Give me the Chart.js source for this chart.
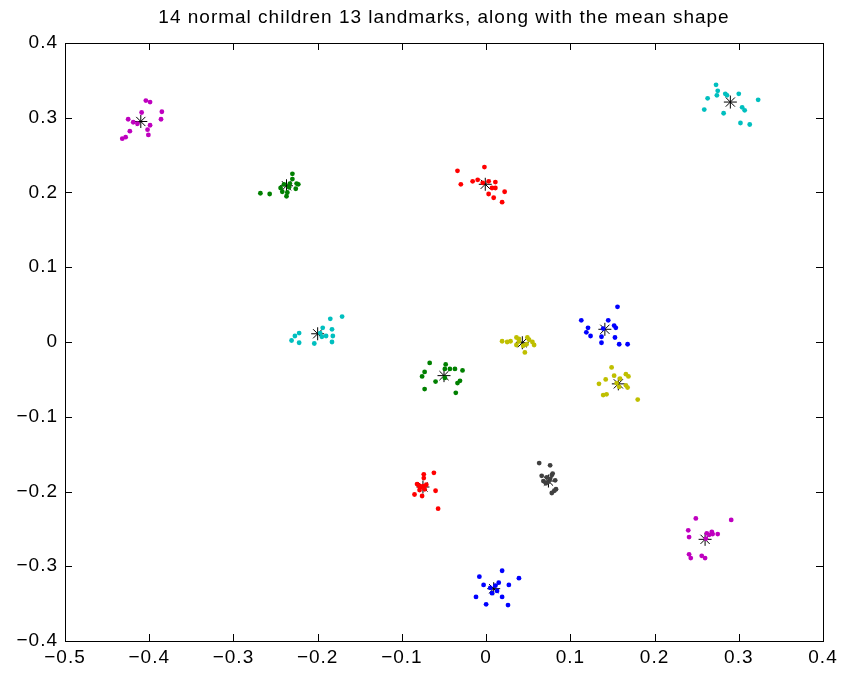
<!DOCTYPE html>
<html>
<head>
<meta charset="utf-8">
<script src="https://cdn.jsdelivr.net/npm/chart.js@4.4.1/dist/chart.umd.min.js"></script>
<style>
  html, body { margin: 0; padding: 0; background: #fff; }
</style>
</head>
<body>
<canvas id="c" width="845" height="677"></canvas>
<script>
const TITLE = "14 normal children 13 landmarks, along with the mean shape";
const xTicks = [-0.5, -0.4, -0.3, -0.2, -0.1, 0, 0.1, 0.2, 0.3, 0.4];
const yTicks = [-0.4, -0.3, -0.2, -0.1, 0, 0.1, 0.2, 0.3, 0.4];

// landmark positions of the 14 children, one array per landmark: [x, y]
const L1 = [[-0.404,0.323],[-0.399,0.321],[-0.409,0.307],[-0.385,0.308],[-0.425,0.298],[-0.386,0.298],[-0.419,0.294],[-0.414,0.292],[-0.399,0.290],[-0.402,0.284],[-0.423,0.282],[-0.401,0.277],[-0.428,0.274],[-0.432,0.272]];
const L2 = [[-0.268,0.199],[-0.257,0.198],[-0.230,0.225],[-0.230,0.218],[-0.225,0.212],[-0.223,0.211],[-0.233,0.212],[-0.226,0.205],[-0.242,0.201],[-0.236,0.200],[-0.237,0.195],[-0.240,0.211],[-0.234,0.207],[-0.244,0.206]];
const L3 = [[-0.034,0.229],[-0.002,0.234],[-0.030,0.211],[-0.016,0.215],[-0.010,0.217],[0.003,0.215],[0.011,0.214],[0.007,0.206],[0.011,0.206],[0.022,0.201],[0.003,0.198],[0.009,0.193],[0.019,0.187],[-0.004,0.213]];
const L4 = [[0.273,0.344],[0.275,0.336],[0.263,0.326],[0.274,0.330],[0.284,0.332],[0.286,0.330],[0.300,0.332],[0.323,0.324],[0.259,0.311],[0.282,0.306],[0.304,0.314],[0.307,0.310],[0.302,0.293],[0.313,0.291]];
const L5 = [[-0.185,0.031],[-0.171,0.034],[-0.194,0.019],[-0.183,0.017],[-0.222,0.012],[-0.227,0.008],[-0.231,0.002],[-0.222,-0.001],[-0.204,-0.002],[-0.190,0.008],[-0.182,0.008],[-0.183,0.000],[-0.197,0.012],[-0.195,0.007]];
const L6 = [[-0.067,-0.028],[-0.048,-0.030],[-0.073,-0.040],[-0.076,-0.046],[-0.049,-0.036],[-0.043,-0.036],[-0.037,-0.036],[-0.028,-0.038],[-0.060,-0.053],[-0.031,-0.052],[-0.034,-0.055],[-0.073,-0.063],[-0.036,-0.068],[-0.049,-0.048]];
const L7 = [[0.019,0.001],[0.025,0.000],[0.029,0.001],[0.036,0.006],[0.036,-0.004],[0.049,0.006],[0.051,0.003],[0.055,0.000],[0.057,-0.004],[0.046,-0.014],[0.048,-0.003],[0.039,0.001],[0.039,0.004],[0.044,-0.005]];
const L8 = [[0.156,0.047],[0.113,0.029],[0.145,0.029],[0.121,0.019],[0.119,0.013],[0.124,0.008],[0.152,0.022],[0.154,0.019],[0.137,0.007],[0.153,0.006],[0.137,-0.001],[0.158,-0.003],[0.168,-0.003],[0.139,0.018]];
const L9 = [[0.149,-0.034],[0.166,-0.043],[0.169,-0.046],[0.152,-0.045],[0.142,-0.050],[0.159,-0.049],[0.134,-0.056],[0.166,-0.058],[0.168,-0.061],[0.158,-0.060],[0.143,-0.070],[0.139,-0.071],[0.180,-0.077],[0.155,-0.055]];
const L10 = [[-0.062,-0.175],[-0.074,-0.177],[-0.074,-0.182],[-0.082,-0.190],[-0.080,-0.192],[-0.078,-0.194],[-0.085,-0.204],[-0.076,-0.206],[-0.060,-0.199],[-0.057,-0.223],[-0.075,-0.193],[-0.073,-0.197],[-0.079,-0.198],[-0.071,-0.191]];
const L11 = [[0.063,-0.162],[0.076,-0.165],[0.079,-0.176],[0.078,-0.178],[0.066,-0.179],[0.068,-0.186],[0.071,-0.189],[0.083,-0.197],[0.081,-0.199],[0.078,-0.202],[0.076,-0.183],[0.072,-0.181],[0.074,-0.187],[0.082,-0.185]];
const L12 = [[0.249,-0.236],[0.240,-0.252],[0.241,-0.261],[0.262,-0.256],[0.265,-0.258],[0.268,-0.254],[0.269,-0.257],[0.275,-0.257],[0.241,-0.284],[0.243,-0.289],[0.256,-0.286],[0.260,-0.289],[0.261,-0.263],[0.291,-0.238]];
const L13 = [[-0.008,-0.314],[0.019,-0.306],[0.039,-0.316],[-0.003,-0.325],[0.015,-0.322],[0.027,-0.325],[0.005,-0.329],[0.013,-0.333],[0.007,-0.336],[-0.012,-0.341],[0.019,-0.341],[0.000,-0.351],[0.026,-0.352],[0.011,-0.326]];
const landmarks = [L1, L2, L3, L4, L5, L6, L7, L8, L9, L10, L11, L12, L13];
const landmarkColors = ["#bf00bf", "#008000", "#ff0000", "#00bfbf", "#00bfbf", "#008000", "#bfbf00",
                        "#0000ff", "#bfbf00", "#ff0000", "#404040", "#bf00bf", "#0000ff"];

// mean shape
const meanX = [-0.410, -0.237, -0.001, 0.290, -0.200, -0.050, 0.043, 0.141, 0.157, -0.075, 0.074, 0.260, 0.009];
const meanY = [0.295, 0.209, 0.211, 0.321, 0.011, -0.045, -0.001, 0.017, -0.056, -0.194, -0.186, -0.264, -0.330];

const FONT = "'Liberation Sans', Arial, Helvetica, sans-serif";
const SPACING = "1px"; // matlab's text renders a bit looser than the canvas

const datasets = landmarks.map((pts, i) => ({
  label: "landmark " + (i + 1),
  data: pts.map(p => ({ x: p[0], y: p[1] })),
  backgroundColor: landmarkColors[i],
  borderWidth: 0,
  pointRadius: 2.4,
}));
datasets.push({
  label: "mean",
  data: meanX.map((x, i) => ({ x, y: meanY[i] })),
  pointStyle: "star",
  pointRadius: 6.5,
  borderColor: "#000",
  backgroundColor: "#000",
  borderWidth: 1,
});

// box round the axes and inward tick marks on all four sides, like matlab
const frame = {
  id: "frame",
  beforeLayout(chart) { chart.ctx.letterSpacing = SPACING; },
  beforeDraw(chart) { chart.ctx.letterSpacing = SPACING; },
  afterDraw(chart) {
    const { ctx, chartArea: a, scales } = chart;
    const tl = 7;
    ctx.save();
    ctx.strokeStyle = "#000";
    ctx.lineWidth = 1;
    ctx.beginPath();
    for (const v of xTicks) {
      const px = Math.round(scales.x.getPixelForValue(v)) + 0.5;
      ctx.moveTo(px, a.bottom); ctx.lineTo(px, a.bottom - tl);
      ctx.moveTo(px, a.top); ctx.lineTo(px, a.top + tl);
    }
    for (const v of yTicks) {
      const py = Math.round(scales.y.getPixelForValue(v)) + 0.5;
      ctx.moveTo(a.left, py); ctx.lineTo(a.left + tl, py);
      ctx.moveTo(a.right, py); ctx.lineTo(a.right - tl, py);
    }
    ctx.stroke();
    ctx.strokeRect(Math.round(a.left) + 0.5, Math.round(a.top) + 0.5,
                   Math.round(a.right - a.left), Math.round(a.bottom - a.top));
    ctx.restore();
  },
};

const fmt = (v) => {
  if (Math.abs(v) < 1e-9) return "0";
  const s = Math.abs(v).toFixed(1);
  return v < 0 ? "\u2212" + s : s;
};

new Chart(document.getElementById("c"), {
  type: "scatter",
  data: { datasets },
  options: {
    responsive: false,
    animation: false,
    layout: { padding: { right: 22, left: 0, top: 0, bottom: 0 } },
    plugins: {
      legend: { display: false },
      tooltip: { enabled: false },
      title: {
        display: true,
        text: TITLE,
        fullSize: false,
        color: "#000",
        font: { family: FONT, size: 19, weight: "normal", lineHeight: 1.2 },
        padding: { top: 6, bottom: 14.2 },
      },
    },
    scales: {
      x: {
        type: "linear",
        min: -0.5, max: 0.4,
        afterBuildTicks: (s) => { s.ticks = xTicks.map(v => ({ value: v })); },
        afterFit: (s) => { s.height = 36; },
        grid: { display: false, drawTicks: false },
        border: { display: false },
        ticks: { color: "#000", padding: 5, autoSkip: false, maxRotation: 0, font: { family: FONT, size: 19 }, callback: fmt },
      },
      y: {
        type: "linear",
        min: -0.4, max: 0.4,
        afterBuildTicks: (s) => { s.ticks = yTicks.map(v => ({ value: v })); },
        afterFit: (s) => { s.width = 65; },
        grid: { display: false, drawTicks: false },
        border: { display: false },
        ticks: { color: "#000", padding: 7, autoSkip: false, font: { family: FONT, size: 19 }, callback: fmt },
      },
    },
  },
  plugins: [frame],
});
</script>
</body>
</html>
